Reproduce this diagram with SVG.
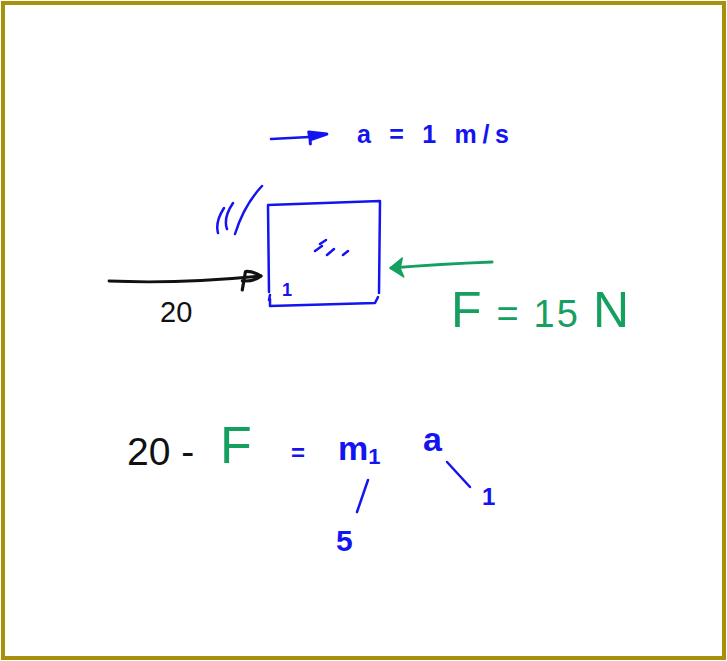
<svg xmlns="http://www.w3.org/2000/svg" width="727" height="661" viewBox="0 0 727 661">
<defs>
<style>
.t{font-family:"Liberation Sans","DejaVu Sans",sans-serif}
.b{fill:#1414f0}
.g{fill:#16a060}
.k{fill:#111}
.sb{stroke:#1414f0;fill:none;stroke-width:2.5;stroke-linecap:round;stroke-linejoin:round}
.sg{stroke:#16a060;fill:none;stroke-width:3;stroke-linecap:round}
.sk{stroke:#111;fill:none;stroke-width:2.8;stroke-linecap:round}
</style>
<marker id="mb" viewBox="0 0 22 18" refX="2" refY="8" markerWidth="22" markerHeight="18" markerUnits="userSpaceOnUse" orient="auto"><path d="M2,3 L20,6 L3,11 Z M3,8 L3,15" fill="#1414f0" stroke="#1414f0" stroke-width="3" stroke-linejoin="round" stroke-linecap="round"/></marker>
<marker id="mk" viewBox="0 0 26 24" refX="23" refY="9" markerWidth="26" markerHeight="24" markerUnits="userSpaceOnUse" orient="auto"><path d="M3,21 L8,3 Q15,3 23,9 Q15,14 4,12" fill="none" stroke="#111" stroke-width="3.2" stroke-linejoin="round" stroke-linecap="round"/></marker>
<marker id="mg" viewBox="0 0 18 22" refX="16" refY="11" markerWidth="18" markerHeight="22" markerUnits="userSpaceOnUse" orient="auto"><path d="M17,11 L4,1 L7,10 L4,20 Z" fill="#16a060" stroke="#16a060" stroke-width="1.5" stroke-linejoin="round"/></marker>
</defs>
<rect x="0" y="0" width="727" height="661" fill="#fff"/>
<rect id="frame" x="3" y="3" width="721" height="655" fill="none" stroke="#a8900c" stroke-width="4"/>
<g id="block">
<path class="sb" d="M268,206 L269,292 M270,295 L269,300 M270,299 L270,306 L375,303 L378,297 M379,293 L380,201 L268,205"/>
<path class="sb" d="M315,251 L322,246 M320,244 L326,240 M327,255 L334,249 M343,255 L348,251" stroke-width="2"/>
<text class="t b" x="282" y="296" font-size="18" font-weight="bold">1</text>
</g>
<g id="motion-lines">
<path class="sb" d="M224,208 Q215,222 218,233 M233,203 Q223,218 227,229 M262,186 Q244,205 235,234" stroke-width="2"/>
</g>
<g id="connectors">
<path class="sb" d="M271,139 L309,137" marker-end="url(#mb)" stroke-width="3.5"/>
<path class="sk" d="M109,281 Q180,284 261,276" marker-end="url(#mk)"/>
<path class="sg" d="M492,262 Q440,264 391,268" marker-end="url(#mg)"/>
<path class="sb" d="M368,480 L357,512" stroke-width="3"/>
<path class="sb" d="M447,462 L470,487" stroke-width="3.5"/>
</g>
<g id="accel-label">
<text class="t b" x="357" y="143" font-size="25" font-weight="bold" textLength="152" lengthAdjust="spacing">a = 1 m/s</text>
</g>
<g id="force-20">
<text class="t k" x="160" y="322" font-size="29">20</text>
</g>
<g id="force-F">
<text class="t g" x="451" y="327" font-size="38" textLength="178" lengthAdjust="spacing"><tspan font-size="50">F</tspan> = 15 <tspan font-size="50">N</tspan></text>
</g>
<g id="equation">
<text class="t k" x="127" y="465" font-size="39">20 -</text>
<text class="t g" x="220" y="463" font-size="52">F</text>
<text class="t b" x="291" y="461" font-size="24" font-weight="bold">=</text>
<text class="t b" x="338" y="460" font-size="34" font-weight="bold">m<tspan font-size="22" dy="4">1</tspan></text>
<text class="t b" x="423" y="451" font-size="34" font-weight="bold">a</text>
<text class="t b" x="482" y="505" font-size="24" font-weight="bold">1</text>
<text class="t b" x="336" y="551" font-size="30" font-weight="bold">5</text>
</g>
</svg>
